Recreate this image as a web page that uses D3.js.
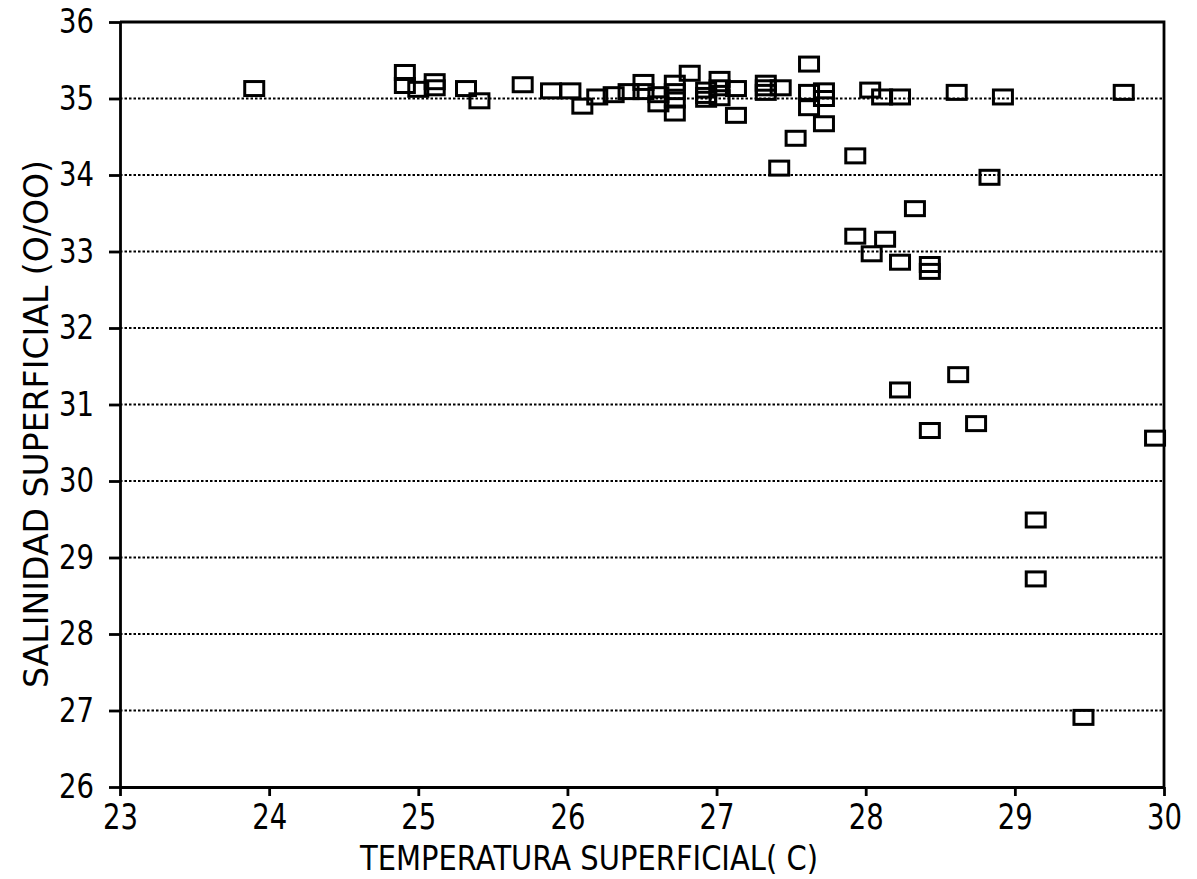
<!DOCTYPE html>
<html>
<head>
<meta charset="utf-8">
<script src="https://cdn.jsdelivr.net/npm/d3@7"></script>
<style>
  body { margin: 0; background: #fff; }
  svg { display: block; }
  .axis path, .axis line { stroke: #000; stroke-width: 2.8; }
  .axis text { font-family: "DejaVu Sans", sans-serif; font-size: 36px; fill: #000; }
  .y-axis text { font-size: 34px; }
  .title { font-family: "DejaVu Sans", sans-serif; font-size: 34px; fill: #000; }
  .grid line { stroke: #000; stroke-width: 2; stroke-dasharray: 2.5,2; }
  .mark { fill: none; stroke: #000; stroke-width: 3; }
</style>
</head>
<body>
<svg id="chart"></svg>
<script>
// temperatura superficial (C) / salinidad superficial (o/oo)
const temperature = [
  23.90, 24.91, 24.91, 25.00, 25.11, 25.11, 25.32, 25.41, 25.70, 25.89,
  26.02, 26.10, 26.20, 26.31, 26.41, 26.51, 26.51, 26.61, 26.61, 26.72,
  26.72, 26.72, 26.72, 26.82, 26.93, 26.93, 26.93, 27.02, 27.02, 27.02,
  27.13, 27.13, 27.33, 27.33, 27.33, 27.43, 27.53, 27.62, 27.62, 27.62,
  27.72, 27.72, 27.72, 27.42, 27.93, 28.03, 28.11, 28.23, 28.61, 28.92,
  29.73, 28.83, 28.33, 27.93, 28.13, 28.04, 28.23, 28.43, 28.43, 28.23,
  28.62, 28.43, 28.74, 29.94, 29.14, 29.14, 29.46
];
const salinity = [
  35.13, 35.34, 35.17, 35.12, 35.22, 35.14, 35.13, 34.97, 35.18, 35.10,
  35.10, 34.90, 35.02, 35.05, 35.09, 35.21, 35.09, 35.05, 34.93, 35.20,
  35.09, 34.98, 34.81, 35.33, 35.11, 35.04, 34.99, 35.25, 35.14, 35.01,
  35.13, 34.78, 35.20, 35.14, 35.08, 35.14, 34.48, 35.45, 35.08, 34.88,
  35.10, 35.00, 34.67, 34.09, 34.25, 35.11, 35.02, 35.02, 35.08, 35.02,
  35.08, 33.97, 33.56, 33.20, 33.16, 32.97, 32.86, 32.83, 32.74, 31.19,
  31.39, 30.66, 30.75, 30.56, 29.49, 28.72, 26.91
];
const xTicks = [23, 24, 25, 26, 27, 28, 29, 30];
const yTicks = [26, 27, 28, 29, 30, 31, 32, 33, 34, 35, 36];
const gridValues = [27, 28, 29, 30, 31, 32, 33, 34, 35];
const xTitle = 'TEMPERATURA SUPERFICIAL( C)';
const yTitle = 'SALINIDAD SUPERFICIAL (O/OO)';

const data = temperature.map((t, i) => ({ t: t, s: salinity[i] }));

const width = 1197, height = 879;
const box = { left: 120, right: 1164, top: 22, bottom: 787 };
const markW = 19, markH = 14;
const labelWidth = 35; // the plotter digits are narrow

const svg = d3.select('#chart')
    .attr('width', width)
    .attr('height', height);

const x = d3.scaleLinear().domain([23, 30]).range([box.left, box.right]);
const y = d3.scaleLinear().domain([26, 36]).range([box.bottom, box.top]);

// dotted horizontal grid
svg.append('g')
    .attr('class', 'grid')
    .selectAll('line')
    .data(gridValues)
    .join('line')
    .attr('x1', box.left)
    .attr('x2', box.right)
    .attr('y1', d => y(d))
    .attr('y2', d => y(d));

// frame top and right
svg.append('path')
    .attr('d', `M${box.left},${box.top}H${box.right}V${box.bottom}`)
    .attr('fill', 'none')
    .attr('stroke', '#000')
    .attr('stroke-width', 2.8);

const xAxis = d3.axisBottom(x)
    .tickValues(xTicks)
    .tickFormat(d3.format('d'))
    .tickSizeInner(9)
    .tickSizeOuter(0)
    .tickPadding(7);

const yAxis = d3.axisLeft(y)
    .tickValues(yTicks)
    .tickFormat(d3.format('d'))
    .tickSizeInner(11)
    .tickSizeOuter(0)
    .tickPadding(15);

svg.append('g')
    .attr('class', 'axis x-axis')
    .attr('transform', `translate(0,${box.bottom})`)
    .call(xAxis);

svg.append('g')
    .attr('class', 'axis y-axis')
    .attr('transform', `translate(${box.left},0)`)
    .call(yAxis);

svg.selectAll('.axis text')
    .attr('textLength', labelWidth)
    .attr('lengthAdjust', 'spacingAndGlyphs');

// open squares
svg.append('g')
    .selectAll('rect')
    .data(data)
    .join('rect')
    .attr('class', 'mark')
    .attr('x', d => x(d.t) - markW / 2)
    .attr('y', d => y(d.s) - markH / 2)
    .attr('width', markW)
    .attr('height', markH);

// axis titles
svg.append('text')
    .attr('class', 'title')
    .attr('x', 589)
    .attr('y', 870)
    .attr('text-anchor', 'middle')
    .attr('textLength', 458)
    .attr('lengthAdjust', 'spacingAndGlyphs')
    .text(xTitle);

svg.append('text')
    .attr('class', 'title')
    .attr('transform', 'translate(48,424) rotate(-90)')
    .attr('text-anchor', 'middle')
    .attr('textLength', 528)
    .attr('lengthAdjust', 'spacingAndGlyphs')
    .text(yTitle);
</script>
</body>
</html>
